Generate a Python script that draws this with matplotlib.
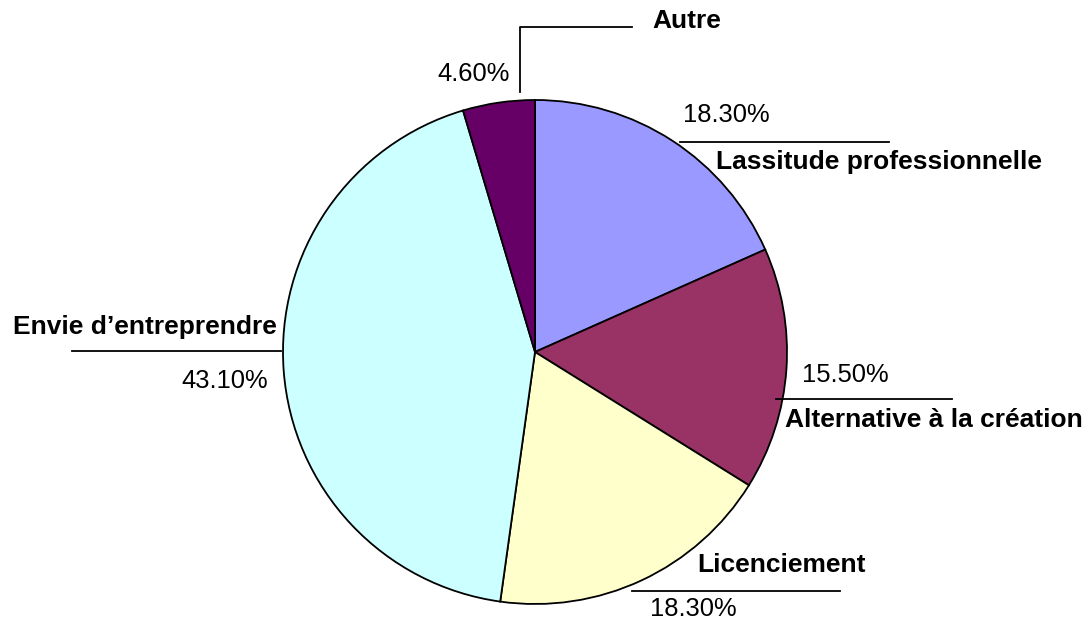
import matplotlib.pyplot as plt

# slices, clockwise from the top
labels = ["Lassitude professionnelle", "Alternative à la création", "Licenciement",
          "Envie d\u2019entreprendre", "Autre"]
shares = [18.3, 15.5, 18.3, 43.1, 4.6]
colors = ["#9999FF", "#993366", "#FFFFCC", "#CCFFFF", "#660066"]

W, H = 1086, 622


def py(y):
    # pixel row (from top) -> data y
    return H - y


plt.rcParams['font.family'] = ['Liberation Sans', 'DejaVu Sans']
fig = plt.figure(figsize=(W / 100, H / 100), dpi=100)
ax = fig.add_axes([0, 0, 1, 1])

ax.pie(shares, colors=colors, startangle=90, counterclock=False,
       center=(535, py(352)), radius=252, frame=True,
       wedgeprops=dict(edgecolor='black', linewidth=1.3))
ax.set_xlim(0, W)
ax.set_ylim(0, H)
ax.axis('off')

pct = ["%.2f%%" % s for s in shares]

# label layout: (name pos, name ha, pct pos, pct ha, line segment)
layout = [
    ((716, 162), 'left', (683, 115), 'left', [(680, 142), (889, 142)]),
    ((785, 420), 'left', (802, 375), 'left', [(776, 399), (952, 399)]),
    ((697, 565), 'left', (650, 609), 'left', [(632, 591), (840, 591)]),
    ((277, 327), 'right', (268, 381), 'right', [(72, 351), (281, 351)]),
    ((652, 21), 'left', (510, 74), 'right', [(520, 92), (520, 27), (632, 27)]),
]

for name, p, (npos, nha, ppos, pha, seg) in zip(labels, pct, layout):
    ax.text(npos[0], py(npos[1]), name, ha=nha, va='center', fontsize=19,
            fontweight='bold')
    ax.text(ppos[0], py(ppos[1]), p, ha=pha, va='center', fontsize=18.4)
    ax.plot([s[0] for s in seg], [py(s[1]) for s in seg], color='black', lw=1.3)

fig.savefig("out.png", dpi=100)
